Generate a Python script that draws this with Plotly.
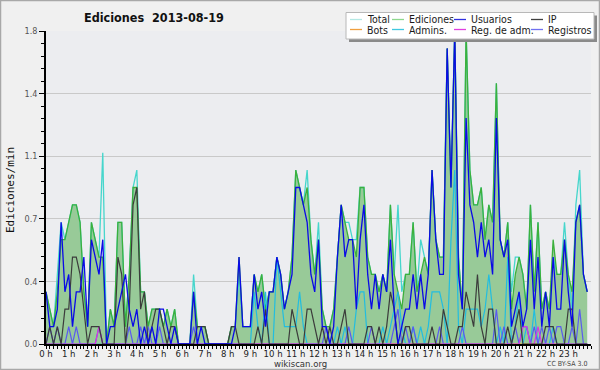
import plotly.graph_objects as go

# ---- data: 10-minute bins, edits per minute ----
hours = list(range(24))
hour_labels = [f"{h} h" for h in hours]
y_tickvals = [0, 0.36, 0.72, 1.08, 1.44, 1.8]
y_ticktext = ["0.0", "0.4", "0.7", "1.1", "1.4", "1.8"]

ediciones = [
    0.3,0.2,0.1,0.3,0.6,0.6, 0.7,0.8,0.8,0.7,0.3,0.1, 0.7,0.6,0.5,0.5,0.0,0.2,
    0.1,0.7,0.7,0.1,0.4,0.9, 0.9,0.3,0.3,0.1,0.2,0.2, 0.2,0.1,0.2,0.1,0.2,0.0,
    0.0,0.0,0.0,0.3,0.1,0.1, 0.1,0.0,0.0,0.0,0.0,0.0, 0.0,0.1,0.1,0.5,0.1,0.1,
    0.1,0.4,0.3,0.4,0.2,0.3, 0.3,0.5,0.4,0.2,0.3,0.5, 1.0,0.9,0.8,0.9,0.6,0.4,
    0.6,0.2,0.1,0.1,0.2,0.5, 0.8,0.7,0.6,0.6,0.5,0.9, 0.9,0.5,0.4,0.4,0.3,0.4,
    0.3,0.8,0.4,0.3,0.2,0.4, 0.4,0.7,0.3,0.4,0.5,0.4, 1.0,0.6,0.5,0.5,1.7,0.9,
    1.8,0.5,0.2,1.8,1.0,0.8, 0.8,0.9,0.6,0.8,0.7,1.5, 0.6,0.5,0.7,0.2,0.4,0.5,
    0.4,0.2,0.8,0.3,0.7,0.2, 0.3,0.2,0.6,0.4,0.4,0.6, 0.4,0.3,0.7,0.8,0.4,0.3,
]
total = [
    0.3,0.2,0.1,0.4,0.7,0.6, 0.7,0.8,0.8,0.7,0.3,0.1, 0.7,0.6,0.5,1.1,0.0,0.2,
    0.1,0.7,0.7,0.1,0.4,0.9, 1.0,0.3,0.3,0.1,0.2,0.2, 0.2,0.1,0.2,0.1,0.2,0.0,
    0.0,0.0,0.0,0.4,0.1,0.1, 0.1,0.0,0.0,0.0,0.0,0.0, 0.0,0.1,0.1,0.4,0.1,0.1,
    0.1,0.4,0.3,0.4,0.2,0.3, 0.3,0.5,0.4,0.2,0.3,0.5, 1.0,0.9,0.8,1.0,0.6,0.4,
    0.7,0.2,0.1,0.1,0.2,0.5, 0.8,0.7,0.7,0.6,0.6,0.9, 0.9,0.5,0.4,0.4,0.3,0.4,
    0.3,0.8,0.4,0.8,0.3,0.4, 0.4,0.7,0.3,0.6,0.5,0.4, 1.0,0.6,0.5,0.5,1.7,0.9,
    1.8,0.5,0.2,1.8,1.0,0.8, 0.8,0.9,0.6,0.8,0.7,1.5, 0.6,0.5,0.7,0.3,0.5,0.5,
    0.4,0.2,0.8,0.3,0.7,0.2, 0.3,0.2,0.5,0.4,0.4,0.7, 0.4,0.2,0.8,1.0,0.4,0.3,
]
usuarios = [
    0.3,0.1,0.1,0.2,0.7,0.3, 0.4,0.1,0.3,0.3,0.5,0.1, 0.6,0.5,0.4,0.6,0.0,0.1,
    0.1,0.2,0.3,0.4,0.2,0.1, 0.2,0.0,0.1,0.0,0.1,0.0, 0.2,0.2,0.1,0.0,0.1,0.0,
    0.0,0.0,0.0,0.3,0.0,0.1, 0.0,0.0,0.0,0.0,0.0,0.0, 0.0,0.0,0.1,0.5,0.1,0.1,
    0.1,0.4,0.2,0.3,0.1,0.3, 0.3,0.5,0.4,0.2,0.3,0.4, 0.9,0.9,0.8,0.7,0.4,0.3,
    0.6,0.1,0.1,0.0,0.1,0.5, 0.8,0.5,0.6,0.6,0.2,0.6, 0.8,0.4,0.2,0.4,0.2,0.4,
    0.3,0.6,0.2,0.0,0.1,0.2, 0.2,0.4,0.2,0.4,0.2,0.4, 1.0,0.6,0.4,0.4,1.7,0.9,
    1.8,0.4,0.2,1.3,0.8,0.7, 0.5,0.7,0.5,0.6,0.4,1.3, 0.6,0.5,0.6,0.1,0.2,0.3,
    0.1,0.2,0.6,0.2,0.5,0.1, 0.3,0.1,0.5,0.2,0.2,0.6, 0.3,0.1,0.7,0.8,0.4,0.3,
]
ip = [
    0.0,0.1,0.0,0.1,0.0,0.2, 0.2,0.5,0.5,0.4,0.2,0.0, 0.1,0.1,0.1,0.0,0.0,0.0,
    0.0,0.5,0.4,0.0,0.2,0.8, 0.9,0.2,0.3,0.0,0.1,0.2, 0.2,0.1,0.0,0.1,0.1,0.0,
    0.0,0.0,0.0,0.0,0.1,0.1, 0.1,0.0,0.0,0.0,0.0,0.0, 0.0,0.1,0.1,0.0,0.0,0.0,
    0.0,0.0,0.1,0.0,0.2,0.0, 0.0,0.0,0.0,0.0,0.0,0.2, 0.1,0.0,0.0,0.2,0.2,0.1,
    0.0,0.1,0.0,0.1,0.0,0.0, 0.1,0.2,0.0,0.0,0.0,0.0, 0.0,0.1,0.1,0.0,0.1,0.0,
    0.1,0.3,0.2,0.0,0.0,0.1, 0.1,0.0,0.0,0.0,0.0,0.0, 0.1,0.0,0.0,0.2,0.1,0.0,
    0.0,0.1,0.1,0.3,0.2,0.1, 0.4,0.1,0.0,0.2,0.2,0.0, 0.0,0.0,0.1,0.0,0.1,0.2,
    0.0,0.0,0.0,0.0,0.0,0.0, 0.1,0.1,0.1,0.0,0.0,0.0, 0.2,0.2,0.0,0.0,0.0,0.0,
]
bots = [0.0] * 144
admins = [
    0.0,0.0,0.0,0.0,0.0,0.0, 0.0,0.0,0.0,0.0,0.0,0.0, 0.0,0.0,0.0,0.0,0.0,0.0,
    0.0,0.0,0.0,0.0,0.0,0.0, 0.0,0.0,0.0,0.0,0.0,0.0, 0.0,0.0,0.0,0.0,0.0,0.0,
    0.0,0.0,0.0,0.0,0.0,0.0, 0.0,0.0,0.0,0.0,0.0,0.0, 0.0,0.0,0.0,0.0,0.0,0.0,
    0.0,0.3,0.1,0.0,0.3,0.0, 0.0,0.5,0.3,0.1,0.1,0.1, 0.1,0.3,0.1,0.0,0.0,0.0,
    0.0,0.0,0.0,0.0,0.0,0.1, 0.0,0.1,0.0,0.0,0.2,0.3, 0.3,0.0,0.0,0.0,0.0,0.1,
    0.0,0.1,0.2,0.3,0.1,0.0, 0.0,0.1,0.0,0.1,0.0,0.1, 0.3,0.3,0.3,0.2,0.0,0.6,
    1.0,0.1,0.0,0.2,0.2,0.2, 0.2,0.1,0.2,0.4,0.2,0.0, 0.1,0.0,0.5,0.0,0.1,0.3,
    0.0,0.1,0.0,0.2,0.0,0.0, 0.0,0.0,0.1,0.0,0.0,0.0, 0.0,0.0,0.0,0.0,0.0,0.0,
]
reg_adm = [0.0] * 144
for _i in (14, 126, 127, 130):
    reg_adm[_i] = 0.1
registros = [
    0.0,0.1,0.0,0.1,0.0,0.0, 0.1,0.0,0.1,0.0,0.0,0.0, 0.0,0.0,0.1,0.0,0.0,0.0,
    0.0,0.0,0.0,0.0,0.1,0.0, 0.0,0.1,0.0,0.1,0.0,0.0, 0.1,0.0,0.0,0.0,0.0,0.0,
    0.0,0.0,0.0,0.1,0.0,0.0, 0.0,0.0,0.0,0.0,0.0,0.0, 0.0,0.0,0.0,0.0,0.0,0.0,
    0.0,0.0,0.0,0.0,0.0,0.0, 0.0,0.0,0.0,0.0,0.0,0.0, 0.0,0.0,0.0,0.0,0.0,0.0,
    0.0,0.0,0.1,0.0,0.0,0.0, 0.0,0.0,0.1,0.0,0.0,0.0, 0.0,0.0,0.1,0.0,0.0,0.0,
    0.0,0.0,0.1,0.2,0.0,0.1, 0.0,0.1,0.0,0.0,0.0,0.0, 0.0,0.0,0.1,0.0,0.0,0.0,
    0.0,0.0,0.1,0.0,0.0,0.0, 0.0,0.0,0.0,0.0,0.0,0.2, 0.0,0.1,0.0,0.0,0.1,0.0,
    0.1,0.1,0.0,0.1,0.0,0.1, 0.0,0.1,0.0,0.1,0.1,0.0, 0.0,0.1,0.0,0.2,0.0,0.0,
]
x = [i / 6 for i in range(len(ediciones))]

# ---- styles ----
C_TOTAL = "#46d6cc"
C_EDIC = "#3cb03c"
C_FILL = "#98ca98"
C_USU = "#0a0ae6"
C_IP = "#3c3c3c"
C_BOTS = "#f0a030"
C_ADM = "#22bde0"
C_REGADM = "#d838e0"
C_REG = "#5a5af0"

LEG_COLORS = {"Total": "#b4e8e4", "Ediciones": "#8ed88e", "Usuarios": "#3030e0", "IP": "#404040",
              "Bots": "#f0a040", "Admins.": "#40c8e0", "Reg. de adm.": "#e040e0", "Registros": "#7070f0"}
FONT = "DejaVu Sans Condensed, DejaVu Sans"

fig = go.Figure()
fig.add_trace(go.Scatter(x=x, y=ediciones, mode="lines", line=dict(width=0, color=C_FILL),
                         fill="tozeroy", fillcolor=C_FILL, showlegend=False, hoverinfo="skip"))
fig.add_trace(go.Scatter(x=x, y=total, mode="lines", line=dict(width=1.3, color=C_TOTAL), name="Total", showlegend=False))
fig.add_trace(go.Scatter(x=x, y=ediciones, mode="lines", line=dict(width=1.3, color=C_EDIC), name="Ediciones", showlegend=False))
fig.add_trace(go.Scatter(x=x, y=bots, mode="lines", line=dict(width=1.2, color=C_BOTS), name="Bots", showlegend=False))
fig.add_trace(go.Scatter(x=x, y=admins, mode="lines", line=dict(width=1.2, color=C_ADM), name="Admins.", showlegend=False))
fig.add_trace(go.Scatter(x=x, y=registros, mode="lines", line=dict(width=1.2, color=C_REG), name="Registros", showlegend=False))
fig.add_trace(go.Scatter(x=x, y=reg_adm, mode="lines", line=dict(width=1.2, color=C_REGADM), name="Reg. de adm.", showlegend=False))
fig.add_trace(go.Scatter(x=x, y=ip, mode="lines", line=dict(width=1.2, color=C_IP), name="IP", showlegend=False))
fig.add_trace(go.Scatter(x=x, y=usuarios, mode="lines", line=dict(width=1.3, color=C_USU), name="Usuarios", showlegend=False))

L, R, T, B = 46, 9, 31, 26
PW, PH = 600 - L - R, 370 - T - B


def px(v):
    return (v - L) / PW


def py(v):
    return (370 - B - v) / PH


shapes = []
annotations = []

# outer frame
shapes.append(dict(type="rect", xref="paper", yref="paper", x0=px(0.5), x1=px(599.5), y0=py(369.5), y1=py(0.5),
                   line=dict(color="#a8a8a8", width=1.5), layer="above"))

# legend box with shadow
shapes.append(dict(type="rect", xref="paper", yref="paper", x0=px(349), x1=px(597), y0=py(42), y1=py(15.5),
                   line=dict(width=0), fillcolor="#8a8a8a", layer="above"))
shapes.append(dict(type="rect", xref="paper", yref="paper", x0=px(346), x1=px(594), y0=py(39), y1=py(12.5),
                   line=dict(color="#b8b8b8", width=1), fillcolor="#ffffff", layer="above"))

legend_rows = [["Total", "Ediciones", "Usuarios", "IP"], ["Bots", "Admins.", "Reg. de adm.", "Registros"]]
col_x = [350, 392, 454, 531]
row_y = [19.5, 29.5]
for r, row in enumerate(legend_rows):
    for c, name in enumerate(row):
        x0 = col_x[c]
        shapes.append(dict(type="line", xref="paper", yref="paper", x0=px(x0), x1=px(x0 + 12),
                           y0=py(row_y[r]), y1=py(row_y[r]), line=dict(color=LEG_COLORS[name], width=1.3), layer="above"))
        annotations.append(dict(text=name, xref="paper", yref="paper", x=px(x0 + 14.5), y=py(row_y[r]),
                                xanchor="left", yanchor="middle", showarrow=False,
                                font=dict(family=FONT, size=10.5, color="#1a1a1a")))

# title
annotations.append(dict(text="<b>Ediciones\u00a0 2013-08-19</b>", xref="paper", yref="paper", x=px(154), y=py(17),
                        xanchor="center", yanchor="middle", showarrow=False,
                        font=dict(family=FONT, size=12.5, color="#111111")))
# y title
annotations.append(dict(text="Ediciones/min", xref="paper", yref="paper", x=px(10), y=py(190),
                        xanchor="center", yanchor="middle", showarrow=False, textangle=-90,
                        font=dict(family="DejaVu Sans Mono", size=11, color="#111111")))
# footer
annotations.append(dict(text="wikiscan.org", xref="paper", yref="paper", x=px(300), y=py(363.5),
                        xanchor="center", yanchor="middle", showarrow=False,
                        font=dict(family=FONT, size=9.5, color="#333333")))
annotations.append(dict(text="CC BY-SA 3.0", xref="paper", yref="paper", x=px(589), y=py(363.5),
                        xanchor="right", yanchor="middle", showarrow=False,
                        font=dict(family=FONT, size=7, color="#444444")))

fig.update_layout(
    width=600, height=370,
    margin=dict(l=L, r=R, t=T, b=B, pad=0, autoexpand=False),
    paper_bgcolor="#f0f0f0",
    plot_bgcolor="#ecedf0",
    showlegend=False,
    shapes=shapes,
    annotations=annotations,
    xaxis=dict(range=[0, 24], tickmode="array", tickvals=hours, ticktext=hour_labels, tickangle=0,
               ticks="outside", ticklen=3, tickcolor="black", tickwidth=1, automargin=False,
               ticklabelstandoff=-3,
               showgrid=False, zeroline=False, showline=True, linecolor="black", linewidth=1.5,
               tickfont=dict(family=FONT, size=9.5, color="#222222"),
               minor=dict(tickmode="linear", tick0=0, dtick=1 / 6, ticks="outside", ticklen=3,
                          tickcolor="black", tickwidth=1, showgrid=False),
               fixedrange=True),
    yaxis=dict(range=[0, 1.8], tickmode="array", tickvals=y_tickvals, ticktext=y_ticktext,
               ticks="outside", ticklen=5, tickcolor="black", tickwidth=1, automargin=False,
               showgrid=True, gridcolor="#c9c9c9", gridwidth=1, zeroline=False,
               showline=True, linecolor="black", linewidth=1.5,
               tickfont=dict(family=FONT, size=9, color="#555555"),
               minor=dict(tickmode="linear", tick0=0, dtick=0.072, ticks="outside", ticklen=3,
                          tickcolor="black", tickwidth=1, showgrid=False),
               fixedrange=True),
)

fig.write_html("out.html", config={"displayModeBar": False},
               post_script="document.body.style.margin='0';document.body.style.overflow='hidden';")
